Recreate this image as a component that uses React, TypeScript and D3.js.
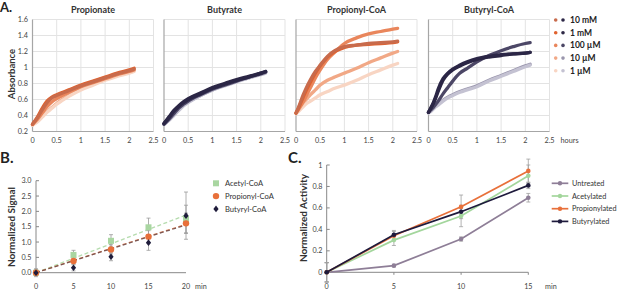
import React from 'react';
import * as d3 from 'd3';

// ---------- Panel A data ----------
const concLabels = ['10 mM', '1 mM', '100 µM', '10 µM', '1 µM'];
const panelTitles = ['Propionate', 'Butyrate', 'Propionyl-CoA', 'Butyryl-CoA'];
const orangeShades = ['#c86b4c', '#e0622f', '#e9865c', '#f1a886', '#f8d5c3'];
const purpleShades = ['#2b2646', '#2d2845', '#4c4766', '#9a96ad', '#c4c2d2'];
const hoursTicks = [0, 0.5, 1, 1.5, 2, 2.5];
const absTicks = [0.2, 0.4, 0.6, 0.8, 1, 1.2, 1.4, 1.6];

const hoursSlow = [0, 0.1, 0.2, 0.3, 0.4, 0.5, 0.75, 1, 1.25, 1.5, 1.75, 2, 2.1];
const hoursFast = [0, 0.05, 0.1, 0.15, 0.2, 0.3, 0.4, 0.5, 0.65, 0.8, 1, 1.25, 1.5, 1.75, 2, 2.1];

const propionate10mM = [0.29, 0.37, 0.47, 0.56, 0.62, 0.65, 0.71, 0.77, 0.82, 0.87, 0.92, 0.96, 0.98];
const propionate1mM = [0.29, 0.38, 0.49, 0.58, 0.63, 0.66, 0.72, 0.78, 0.83, 0.88, 0.93, 0.97, 0.99];
const propionate100uM = [0.29, 0.35, 0.43, 0.51, 0.57, 0.61, 0.69, 0.76, 0.81, 0.86, 0.91, 0.95, 0.97];
const propionate10uM = [0.28, 0.33, 0.39, 0.45, 0.5, 0.55, 0.65, 0.73, 0.79, 0.85, 0.9, 0.94, 0.96];
const propionate1uM = [0.28, 0.32, 0.38, 0.44, 0.49, 0.54, 0.64, 0.72, 0.78, 0.84, 0.89, 0.93, 0.95];

const butyrate10mM = [0.3, 0.37, 0.45, 0.51, 0.56, 0.6, 0.67, 0.74, 0.79, 0.84, 0.88, 0.93, 0.95];
const butyrate1mM = [0.3, 0.38, 0.46, 0.52, 0.57, 0.61, 0.68, 0.75, 0.8, 0.85, 0.89, 0.93, 0.95];
const butyrate100uM = [0.29, 0.35, 0.42, 0.49, 0.54, 0.58, 0.66, 0.73, 0.78, 0.83, 0.88, 0.92, 0.94];
const butyrate10uM = [0.29, 0.34, 0.4, 0.47, 0.53, 0.57, 0.65, 0.72, 0.78, 0.83, 0.87, 0.92, 0.94];
const butyrate1uM = [0.29, 0.34, 0.4, 0.46, 0.52, 0.56, 0.65, 0.72, 0.77, 0.82, 0.87, 0.91, 0.93];

const propionylCoA10mM = [0.43, 0.5, 0.58, 0.66, 0.73, 0.85, 0.95, 1.03, 1.14, 1.21, 1.26, 1.28, 1.3, 1.31, 1.32, 1.33];
const propionylCoA1mM = [0.43, 0.49, 0.56, 0.63, 0.7, 0.82, 0.93, 1.02, 1.13, 1.2, 1.25, 1.28, 1.29, 1.3, 1.31, 1.32];
const propionylCoA100uM = [0.43, 0.47, 0.52, 0.57, 0.63, 0.75, 0.87, 0.97, 1.1, 1.19, 1.3, 1.37, 1.42, 1.45, 1.48, 1.49];
const propionylCoA10uM = [0.43, 0.47, 0.51, 0.55, 0.59, 0.66, 0.72, 0.78, 0.84, 0.88, 0.93, 0.99, 1.06, 1.12, 1.18, 1.2];
const propionylCoA1uM = [0.42, 0.45, 0.48, 0.51, 0.54, 0.58, 0.62, 0.66, 0.7, 0.74, 0.78, 0.84, 0.91, 0.97, 1.03, 1.05];

const butyrylCoA10mM = [0.44, 0.5, 0.56, 0.64, 0.73, 0.86, 0.93, 0.98, 1.03, 1.07, 1.11, 1.14, 1.16, 1.17, 1.18, 1.19];
const butyrylCoA1mM = [0.44, 0.49, 0.55, 0.62, 0.7, 0.84, 0.92, 0.97, 1.02, 1.06, 1.1, 1.13, 1.15, 1.17, 1.18, 1.19];
const butyrylCoA100uM = [0.44, 0.47, 0.5, 0.54, 0.58, 0.67, 0.75, 0.83, 0.93, 0.99, 1.07, 1.15, 1.21, 1.26, 1.3, 1.31];
const butyrylCoA10uM = [0.44, 0.46, 0.49, 0.52, 0.54, 0.59, 0.63, 0.66, 0.7, 0.73, 0.77, 0.84, 0.9, 0.96, 1.02, 1.04];
const butyrylCoA1uM = [0.43, 0.45, 0.48, 0.51, 0.53, 0.58, 0.62, 0.65, 0.69, 0.72, 0.76, 0.83, 0.89, 0.95, 1.01, 1.03];

// ---------- Panel B data ----------
const minutesB = [0, 5, 10, 15, 20];
const signalLabels = ['Acetyl-CoA', 'Propionyl-CoA', 'Butyryl-CoA'];
const signalColors = ['#a9d6a1', '#e8703a', '#1f1c3b'];
const acetylSignal = [0, 0.58, 1.04, 1.48, 1.75];
const acetylSignalErr = [0.1, 0.15, 0.2, 0.3, 0.45];
const propionylSignal = [0, 0.38, 0.76, 1.17, 1.61];
const propionylSignalErr = [0.08, 0.1, 0.15, 0.2, 0.33];
const butyrylSignal = [0, 0.16, 0.52, 0.98, 1.86];
const butyrylSignalErr = [0.13, 0.1, 0.13, 0.25, 0.77];
const acetylTrend = [0, 1.88];
const propionylTrend = [0, 1.58];
const butyrylTrend = [0, 1.56];
const signalTicks = [0, 0.5, 1, 1.5, 2, 2.5, 3];

// ---------- Panel C data ----------
const minutesC = [0, 5, 10, 15];
const activityLabels = ['Untreated', 'Acetylated', 'Propionylated', 'Butyrylated'];
const activityColors = ['#8e7e97', '#a3d69c', '#e8703a', '#1e1a3c'];
const untreated = [0, 0.062, 0.31, 0.695];
const untreatedErr = [0.09, 0.012, 0.02, 0.04];
const acetylated = [0, 0.3, 0.525, 0.9];
const acetylatedErr = [0.09, 0.05, 0.1, 0.1];
const propionylated = [0, 0.34, 0.61, 0.945];
const propionylatedErr = [0.09, 0.04, 0.11, 0.11];
const butyrylated = [0, 0.35, 0.565, 0.81];
const butyrylatedErr = [0.09, 0.04, 0.03, 0.03];
const activityTicks = [0, 0.2, 0.4, 0.6, 0.8, 1];

const FONT = 'Lato, "Open Sans", sans-serif';
const TICK_FILL = '#444444';

const panelsA = [
  { title: panelTitles[0], times: hoursSlow, colors: orangeShades, series: [propionate10mM, propionate1mM, propionate100uM, propionate10uM, propionate1uM] },
  { title: panelTitles[1], times: hoursSlow, colors: purpleShades, series: [butyrate10mM, butyrate1mM, butyrate100uM, butyrate10uM, butyrate1uM] },
  { title: panelTitles[2], times: hoursFast, colors: orangeShades, series: [propionylCoA10mM, propionylCoA1mM, propionylCoA100uM, propionylCoA10uM, propionylCoA1uM] },
  { title: panelTitles[3], times: hoursFast, colors: purpleShades, series: [butyrylCoA10mM, butyrylCoA1mM, butyrylCoA100uM, butyrylCoA10uM, butyrylCoA1uM] },
];

function PanelA() {
  const x0s = [32.5, 164, 296, 428.5];
  const w = 121;
  const y = d3.scaleLinear().domain([0.2, 1.6]).range([131.5, 19.5]);
  return (
    <g>
      <text x={0} y={11.5} fontSize={13} fontWeight={700} fontFamily={FONT} fill="#222">A.</text>
      <text transform={`translate(14.5,74) rotate(-90)`} textAnchor="middle" fontSize={9.5} fontWeight={700} fontFamily={FONT} fill="#333">Absorbance</text>
      {absTicks.map((t) => (
        <text key={t} x={28} y={y(t) + 2.6} textAnchor="end" fontSize={7.3} fontFamily={FONT} fill={TICK_FILL}>{String(t)}</text>
      ))}
      {panelsA.map((p, i) => {
        const x = d3.scaleLinear().domain([0, 2.5]).range([x0s[i], x0s[i] + w]);
        const line = d3.line<number>().x((_, k) => x(p.times[k])).y((v) => y(v)).curve(d3.curveMonotoneX);
        const order = [3, 4, 2, 1, 0];
        return (
          <g key={p.title}>
            {hoursTicks.slice(1).map((t) => (
              <line key={'v' + t} x1={x(t)} x2={x(t)} y1={y(1.6)} y2={y(0.2)} stroke="#e3e3e3" strokeWidth={1} />
            ))}
            {absTicks.slice(1).map((t) => (
              <line key={'h' + t} x1={x(0)} x2={x(2.5)} y1={y(t)} y2={y(t)} stroke="#e3e3e3" strokeWidth={1} />
            ))}
            <line x1={x(0)} x2={x(0)} y1={y(1.6)} y2={y(0.2)} stroke="#a6a6a6" strokeWidth={1.2} />
            <line x1={x(0)} x2={x(2.5)} y1={y(0.2)} y2={y(0.2)} stroke="#a6a6a6" strokeWidth={1.2} />
            {order.map((k) => (
              <path key={k} d={line(p.series[k]) || ''} fill="none" stroke={p.colors[k]} strokeWidth={3.3} strokeLinecap="round" strokeLinejoin="round" />
            ))}
            {hoursTicks.map((t) => (
              <text key={'l' + t} x={x(t)} y={143} textAnchor="middle" fontSize={7.3} fontFamily={FONT} fill={TICK_FILL}>{String(t)}</text>
            ))}
            <text x={x(1.25)} y={13} textAnchor="middle" fontSize={9} fontWeight={700} fontFamily={FONT} fill="#333">{p.title}</text>
          </g>
        );
      })}
      <text x={560.5} y={143} fontSize={7.3} fontFamily={FONT} fill={TICK_FILL}>hours</text>
      {concLabels.map((c, i) => {
        const yy = 20 + i * 12.7;
        return (
          <g key={c}>
            <circle cx={555.7} cy={yy} r={1.8} fill={orangeShades[i]} />
            <circle cx={563} cy={yy} r={1.8} fill={purpleShades[i]} />
            <text x={570} y={yy + 3} fontSize={8.5} fontWeight={700} fontFamily={FONT} fill="#222">{c}</text>
          </g>
        );
      })}
    </g>
  );
}

function ErrBar({ cx, y1, y2, color }: { cx: number; y1: number; y2: number; color: string }) {
  return (
    <g stroke={color} strokeWidth={0.8}>
      <line x1={cx} x2={cx} y1={y1} y2={y2} />
      <line x1={cx - 2} x2={cx + 2} y1={y1} y2={y1} />
      <line x1={cx - 2} x2={cx + 2} y1={y2} y2={y2} />
    </g>
  );
}

function PanelB() {
  const x = d3.scaleLinear().domain([0, 20]).range([36, 186]);
  const y = d3.scaleLinear().domain([0, 3]).range([272.7, 180.7]);
  const series = [
    { vals: acetylSignal, err: acetylSignalErr, trend: acetylTrend },
    { vals: propionylSignal, err: propionylSignalErr, trend: propionylTrend },
    { vals: butyrylSignal, err: butyrylSignalErr, trend: butyrylTrend },
  ];
  const trendColors = ['#b5dcae', '#e0703f', '#6a4a4a'];
  const marker = (k: number, cx: number, cy: number, key: string) => {
    if (k === 0) return <rect key={key} x={cx - 3} y={cy - 3} width={6} height={6} fill={signalColors[0]} />;
    if (k === 1) return <circle key={key} cx={cx} cy={cy} r={3.2} fill={signalColors[1]} />;
    return <path key={key} d={`M${cx},${cy - 3.3}L${cx + 2.6},${cy}L${cx},${cy + 3.3}L${cx - 2.6},${cy}Z`} fill={signalColors[2]} />;
  };
  return (
    <g>
      <text x={0} y={163} fontSize={15} fontWeight={700} fontFamily={FONT} fill="#222">B.</text>
      <text transform={`translate(15,227) rotate(-90)`} textAnchor="middle" fontSize={10} fontWeight={700} fontFamily={FONT} fill="#333">Normalized Signal</text>
      <line x1={36} x2={36} y1={y(3)} y2={y(0)} stroke="#888" strokeWidth={1} />
      <line x1={36} x2={186} y1={y(0)} y2={y(0)} stroke="#888" strokeWidth={1} />
      {signalTicks.map((t) => (
        <g key={t}>
          <line x1={36} x2={39} y1={y(t)} y2={y(t)} stroke="#888" />
          <text x={31.5} y={y(t) + 2.5} textAnchor="end" fontSize={7.2} fontFamily={FONT} fill={TICK_FILL}>{t.toFixed(1)}</text>
        </g>
      ))}
      {minutesB.map((m) => (
        <text key={m} x={x(m)} y={288.5} textAnchor="middle" fontSize={7.2} fontFamily={FONT} fill={TICK_FILL}>{m}</text>
      ))}
      <text x={195} y={288.5} fontSize={7.2} fontFamily={FONT} fill={TICK_FILL}>min</text>
      {series.map((s, k) => (
        <line key={'t' + k} x1={x(0)} x2={x(20)} y1={y(s.trend[0])} y2={y(s.trend[1])} stroke={trendColors[k]} strokeWidth={1.3} strokeDasharray="4 2.5" opacity={k === 0 ? 1 : 0.85} />
      ))}
      {series.map((s, k) => s.vals.map((v, i) => (
        <ErrBar key={`e${k}-${i}`} cx={x(minutesB[i])} y1={y(v + s.err[i])} y2={y(v - s.err[i])} color="#9a9a9a" />
      )))}
      {series.map((s, k) => s.vals.map((v, i) => marker(k, x(minutesB[i]), y(v), `m${k}-${i}`)))}
      {signalLabels.map((l, k) => {
        const yy = 183.3 + k * 12.8;
        return (
          <g key={l}>
            {marker(k, 216, yy, 'lg' + k)}
            <text x={225} y={yy + 2.7} fontSize={7.6} fontFamily={FONT} fill="#333">{l}</text>
          </g>
        );
      })}
    </g>
  );
}

function PanelC() {
  const x = d3.scaleLinear().domain([0, 15]).range([326.7, 528.3]);
  const y = d3.scaleLinear().domain([0, 1]).range([272.3, 165]);
  const series = [
    { vals: untreated, err: untreatedErr },
    { vals: acetylated, err: acetylatedErr },
    { vals: propionylated, err: propionylatedErr },
    { vals: butyrylated, err: butyrylatedErr },
  ];
  const line = d3.line<number>().x((_, i) => x(minutesC[i])).y((v) => y(v));
  return (
    <g>
      <text x={288} y={163} fontSize={15} fontWeight={700} fontFamily={FONT} fill="#222">C.</text>
      <text transform={`translate(307,218) rotate(-90)`} textAnchor="middle" fontSize={10} fontWeight={700} fontFamily={FONT} fill="#333">Normalized Activity</text>
      <line x1={x(0)} x2={x(0)} y1={y(1)} y2={y(0)} stroke="#888" />
      <line x1={x(0)} x2={x(15)} y1={y(0)} y2={y(0)} stroke="#888" />
      {activityTicks.map((t) => (
        <g key={t}>
          <line x1={x(0)} x2={x(0) + 3} y1={y(t)} y2={y(t)} stroke="#888" />
          <text x={322.5} y={y(t) + 2.5} textAnchor="end" fontSize={7.2} fontFamily={FONT} fill={TICK_FILL}>{String(t)}</text>
        </g>
      ))}
      {minutesC.map((m) => (
        <g key={m}>
          <line x1={x(m)} x2={x(m)} y1={y(0)} y2={y(0) + 2.5} stroke="#888" />
          <text x={x(m)} y={288.5} textAnchor="middle" fontSize={7.2} fontFamily={FONT} fill={TICK_FILL}>{m}</text>
        </g>
      ))}
      <text x={545} y={288.5} fontSize={7.2} fontFamily={FONT} fill={TICK_FILL}>min</text>
      {series.map((s, k) => s.vals.map((v, i) => (
        <ErrBar key={`e${k}-${i}`} cx={x(minutesC[i])} y1={y(v + s.err[i])} y2={y(v - s.err[i])} color="#a0a0a0" />
      )))}
      {[0, 1, 2, 3].map((k) => (
        <g key={k}>
          <path d={line(series[k].vals) || ''} fill="none" stroke={activityColors[k]} strokeWidth={1.7} />
          {series[k].vals.map((v, i) => (
            <circle key={i} cx={x(minutesC[i])} cy={y(v)} r={2.3} fill={activityColors[k]} />
          ))}
        </g>
      ))}
      {activityLabels.map((l, k) => {
        const yy = 183.3 + k * 12.7;
        return (
          <g key={l}>
            <line x1={551.7} x2={568.3} y1={yy} y2={yy} stroke={activityColors[k]} strokeWidth={1.7} />
            <circle cx={560} cy={yy} r={2.2} fill={activityColors[k]} />
            <text x={572} y={yy + 2.7} fontSize={7.3} fontFamily={FONT} fill="#333">{l}</text>
          </g>
        );
      })}
    </g>
  );
}

export default function App() {
  return (
    <div style={{ position: 'fixed', left: 0, top: 0 }}>
      <svg width={617} height={289} viewBox="0 0 617 289" style={{ display: 'block', background: '#fff' }}>
        <PanelA />
        <PanelB />
        <PanelC />
      </svg>
    </div>
  );
}
